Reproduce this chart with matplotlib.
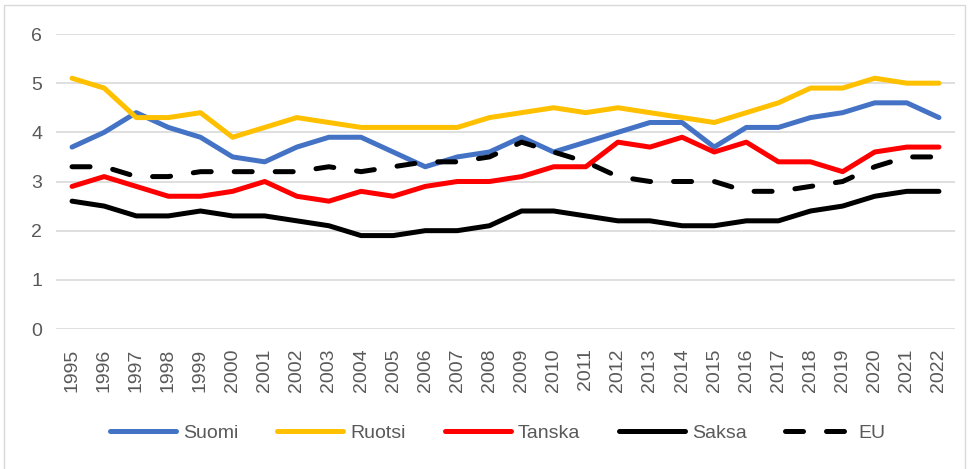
import matplotlib
matplotlib.use('Agg')
import matplotlib.pyplot as plt
from matplotlib.patches import Rectangle

# Data
years = [str(y) for y in range(1995, 2023)]
suomi = [3.7, 4.0, 4.4, 4.1, 3.9, 3.5, 3.4, 3.7, 3.9, 3.9, 3.6, 3.3, 3.5, 3.6,
         3.9, 3.6, 3.8, 4.0, 4.2, 4.2, 3.7, 4.1, 4.1, 4.3, 4.4, 4.6, 4.6, 4.3]
ruotsi = [5.1, 4.9, 4.3, 4.3, 4.4, 3.9, 4.1, 4.3, 4.2, 4.1, 4.1, 4.1, 4.1, 4.3,
          4.4, 4.5, 4.4, 4.5, 4.4, 4.3, 4.2, 4.4, 4.6, 4.9, 4.9, 5.1, 5.0, 5.0]
tanska = [2.9, 3.1, 2.9, 2.7, 2.7, 2.8, 3.0, 2.7, 2.6, 2.8, 2.7, 2.9, 3.0, 3.0,
          3.1, 3.3, 3.3, 3.8, 3.7, 3.9, 3.6, 3.8, 3.4, 3.4, 3.2, 3.6, 3.7, 3.7]
saksa = [2.6, 2.5, 2.3, 2.3, 2.4, 2.3, 2.3, 2.2, 2.1, 1.9, 1.9, 2.0, 2.0, 2.1,
         2.4, 2.4, 2.3, 2.2, 2.2, 2.1, 2.1, 2.2, 2.2, 2.4, 2.5, 2.7, 2.8, 2.8]
eu = [3.3, 3.3, 3.1, 3.1, 3.2, 3.2, 3.2, 3.2, 3.3, 3.2, 3.3, 3.4, 3.4, 3.5,
      3.8, 3.6, 3.4, 3.1, 3.0, 3.0, 3.0, 2.8, 2.8, 2.9, 3.0, 3.3, 3.5, 3.5]

plt.rcParams['font.family'] = ['Liberation Sans', 'DejaVu Sans']

fig = plt.figure(figsize=(9.74, 4.69), dpi=100)
ax = fig.add_axes([56 / 974, 1 - 329 / 469, (955 - 56) / 974, (329 - 34) / 469])

# outer chart frame
fig.patches.append(Rectangle((4 / 974, -0.05), 961 / 974, 1.05 - 5 / 469,
                             transform=fig.transFigure, fill=False,
                             edgecolor='#D9D9D9', linewidth=1))

x = range(len(years))
lw = 3.6
ax.plot(x, suomi, color='#4472C4', lw=lw, label='Suomi', solid_capstyle='round')
ax.plot(x, ruotsi, color='#FFC000', lw=lw, label='Ruotsi', solid_capstyle='round')
ax.plot(x, tanska, color='#FF0000', lw=lw, label='Tanska', solid_capstyle='round')
ax.plot(x, saksa, color='#000000', lw=lw, label='Saksa', solid_capstyle='round')
ax.plot(x, eu, color='#000000', lw=lw, label='EU', dashes=(3.6, 4.6),
        dash_capstyle='round')

ax.set_xlim(-0.5, len(years) - 0.5)
ax.set_ylim(0, 6)
ax.set_yticks(range(0, 7))
ax.set_xticks(list(x))
ax.set_xticklabels(years, rotation=90)
ax.yaxis.grid(True, color='#D9D9D9', linewidth=1.2)
ax.set_axisbelow(True)
for s in ax.spines.values():
    s.set_visible(False)
ax.tick_params(axis='both', length=0, labelsize=14, colors='#595959')
ax.tick_params(axis='y', pad=10)
ax.tick_params(axis='x', pad=14)

ax.legend(loc='center', bbox_to_anchor=(0.511, (469 - 433) / 469), bbox_transform=fig.transFigure,
          ncol=5, frameon=False, fontsize=14, handlelength=3.4, handletextpad=0.35,
          columnspacing=2.0, labelcolor='#595959')

fig.savefig('out.png', dpi=100)
